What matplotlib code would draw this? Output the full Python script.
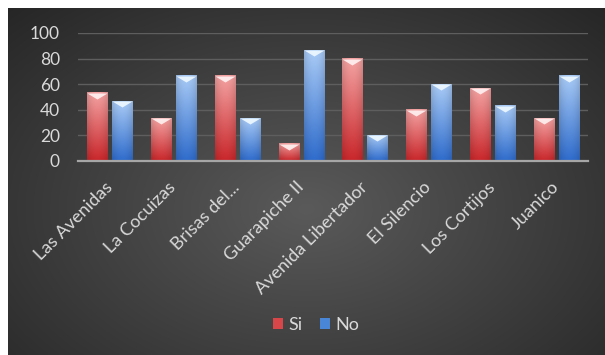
import numpy as np
import matplotlib
matplotlib.use("Agg")
import matplotlib.pyplot as plt
from matplotlib.patches import Patch
from matplotlib.colors import to_rgb

categories = ["Las Avenidas", "La Cocuizas", "Brisas del...", "Guarapiche II",
              "Avenida Libertador", "El Silencio", "Los Cortijos", "Juanico"]
si_values = [53.3, 33.3, 66.7, 13.3, 80.0, 40.0, 56.7, 33.3]
no_values = [46.7, 66.7, 33.3, 86.7, 20.0, 60.0, 43.3, 66.7]
series_names = ["Si", "No"]
yticks = [0, 20, 40, 60, 80, 100]

plt.rcParams['font.family'] = ['Lato', 'DejaVu Sans']
W, H = 605, 355
fig = plt.figure(figsize=(W / 100, H / 100), dpi=100)
fig.patch.set_facecolor("white")

# background panel with radial gradient
bx0, by0, bx1, by1 = 8, 0, 605, 347  # pixel coords (from bottom)
bg = fig.add_axes([bx0 / W, by0 / H, (bx1 - bx0) / W, (by1 - by0) / H])
bg.set_axis_off()
nx, ny = 300, 200
xx, yy = np.meshgrid(np.linspace(0, 1, nx), np.linspace(0, 1, ny))
d = np.sqrt(((xx - 0.5) / 0.75) ** 2 + ((yy - 0.58) / 0.85) ** 2)
d = np.clip(d, 0, 1)
c_in = np.array(to_rgb("#5a5a5a"))
c_out = np.array(to_rgb("#242424"))
img = c_in[None, None, :] * (1 - d[..., None]) + c_out[None, None, :] * d[..., None]
bg.imshow(img, extent=(0, 1, 0, 1), aspect="auto", origin="upper", interpolation="bilinear")
bg.set_xlim(0, 1)
bg.set_ylim(0, 1)

# main axes
ax = fig.add_axes([78 / W, 194 / H, 510 / W, 128 / H])
ax.patch.set_alpha(0)
x = np.arange(len(categories))
bw = 0.314
off = 0.196

def grad_img(top, bottom):
    n = 64
    t = np.linspace(0, 1, n)[:, None]
    top = np.array(to_rgb(top)); bottom = np.array(to_rgb(bottom))
    col = top[None, None, :] * (1 - t[..., None]) + bottom[None, None, :] * t[..., None]
    h = np.linspace(-1, 1, 16)[None, :]
    shade = 1 - 0.12 * np.abs(h) ** 2
    col = col * shade[..., None]
    return np.clip(col, 0, 1)

specs = [
    (si_values, -off, "#f4a3a3", "#c9272b", "#fff0f0"),
    (no_values, off, "#a9cbf6", "#2f6ccc", "#eef8ff"),
]
for vals, o, ctop, cbot, ccap in specs:
    bars = ax.bar(x + o, vals, width=bw, color="none", edgecolor="none", zorder=3)
    g = grad_img(ctop, cbot)
    for b in bars:
        x0, w, h = b.get_x(), b.get_width(), b.get_height()
        ax.imshow(g, extent=(x0, x0 + w, 0, h), aspect="auto", origin="upper",
                  zorder=3, interpolation="bilinear")
    # bevel triangle cap at top of each bar
    ax.scatter(x + o, vals, marker=[(-1, 0), (1, 0), (0, -0.6)], s=(bw * 510 / 8 * 0.72) ** 2,
               color=ccap, alpha=0.92, linewidths=0, zorder=4)

ax.set_xlim(-0.5, len(categories) - 0.5)
ax.set_ylim(0, 100)
ax.set_yticks(yticks)
ax.set_yticklabels([str(v) for v in yticks])
ax.set_xticks(x)
ax.set_xticklabels(categories, rotation=45, ha="right", va="center", rotation_mode="anchor")
ax.tick_params(axis="y", length=0, pad=13, labelsize=12.5, labelcolor="#d9d9d9")
ax.tick_params(axis="x", length=0, pad=17, labelsize=13, labelcolor="#d9d9d9")
ax.grid(axis="y", color="#5e5e5e", linewidth=1.0, zorder=0)
ax.set_axisbelow(True)
for s in ["top", "right", "left"]:
    ax.spines[s].set_visible(False)
ax.spines["bottom"].set_color("#a6a6a6")
ax.spines["bottom"].set_linewidth(1.6)
ax.spines["bottom"].set_zorder(5)

handles = [Patch(facecolor="#d9464a", edgecolor="none"),
           Patch(facecolor="#4a86d8", edgecolor="none")]
leg = fig.legend(handles, series_names, loc="center", bbox_to_anchor=(316 / W, 30 / H),
                 ncol=2, frameon=False, fontsize=13, handlelength=0.55, handleheight=0.55,
                 handletextpad=0.3, columnspacing=1.0)
for t in leg.get_texts():
    t.set_color("#d9d9d9")

fig.savefig("out.png", dpi=100, facecolor=fig.get_facecolor())
